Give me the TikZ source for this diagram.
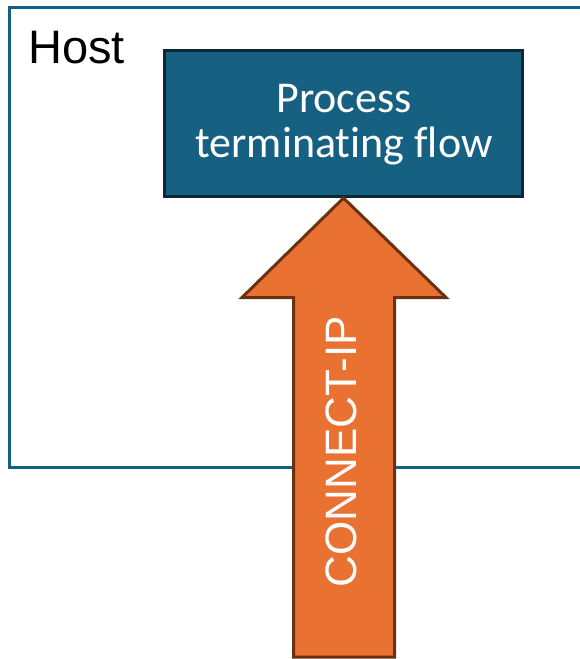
\documentclass[tikz,border=0pt]{standalone}
\usepackage{fontspec}
\setmainfont{Carlito}[Ligatures=CommonOff]
\newfontfamily\labelsans{Liberation Sans}
\definecolor{hostblue}{HTML}{156082}
\definecolor{procfill}{HTML}{166082}
\definecolor{procedge}{HTML}{0C2736}
\definecolor{arrowfill}{HTML}{E97132}
\definecolor{arrowedge}{HTML}{6A3113}
\tikzset{
  hostframe/.style={draw=hostblue, line width=3pt},
  procbox/.style={draw=procedge, fill=procfill, line width=3pt,
    minimum width=358pt, minimum height=146pt, inner sep=0pt},
  proctext/.style={text=white, align=center, inner sep=0pt,
    font=\fontsize{44}{45}\selectfont},
  blockarrow/.style={draw=arrowedge, fill=arrowfill, line width=3pt, line join=miter},
  arrowtext/.style={text=white, rotate=90, inner sep=0pt,
    font=\labelsans\fontsize{44}{48}\selectfont},
  hosttext/.style={anchor=base west, inner sep=0pt,
    font=\labelsans\fontsize{47}{48}\selectfont}
}
\begin{document}
\begin{tikzpicture}[x=1pt,y=-1pt]
  \useasboundingbox (0,0) rectangle (580,659);
  \clip (0,0) rectangle (580,659);
  % host frame, open to the right
  \draw[hostframe] (9.5,7.5) rectangle (610,467.5);
  \node[hosttext] (host) at (28,63) {Host};
  % process box and its two-line label (base = baseline of the last line)
  \node[procbox] (proc) at (343.5,123.5) {};
  \node[proctext, anchor=base] (proclabel) at (344,157) {Process\\terminating flow};
  % block arrow into the process
  \coordinate (tip) at (proc.south);
  \draw[blockarrow] (tip) -- ++(102.5,99.5) -- ++(-51.5,0) -- ++(0,359.5)
    -- ++(-101,0) -- ++(0,-359.5) -- ++(-51.5,0) -- cycle;
  \node[arrowtext] (cip) at (341,451.5) {CONNECT-IP};
\end{tikzpicture}
\end{document}
